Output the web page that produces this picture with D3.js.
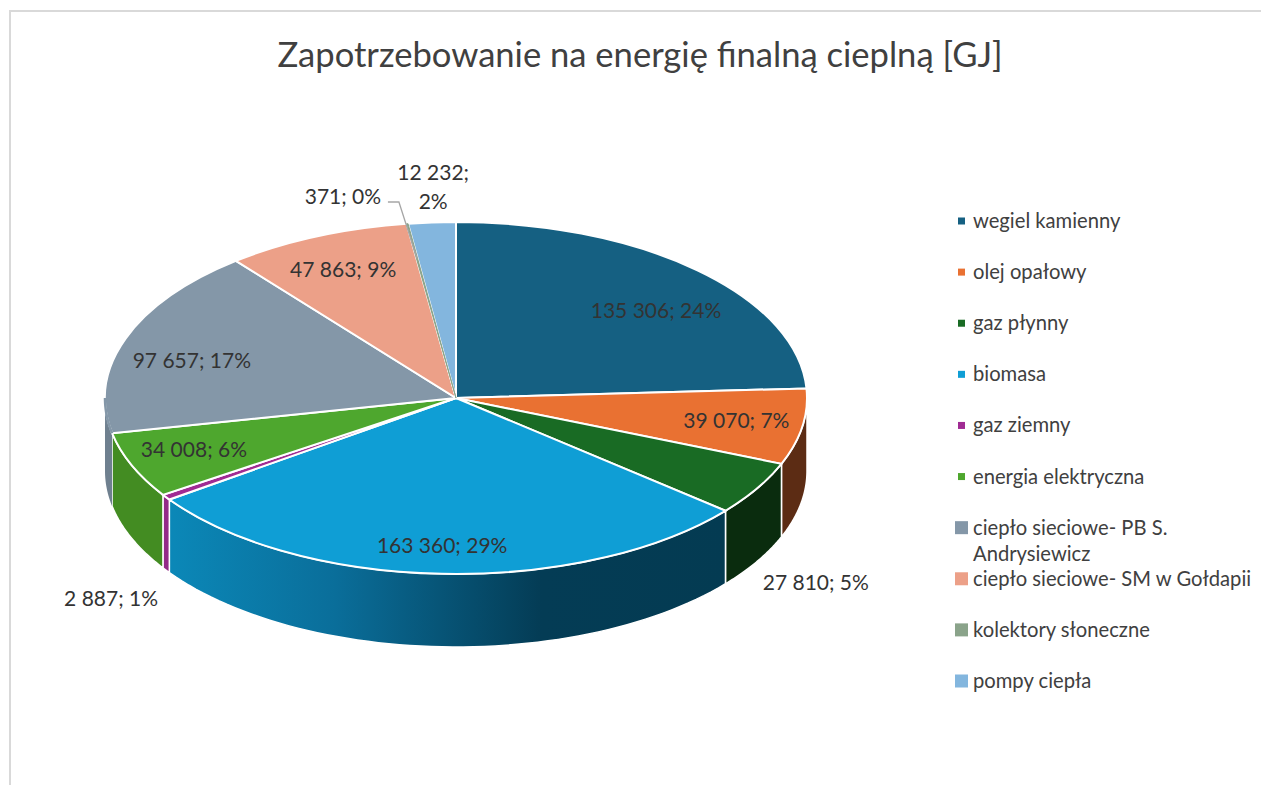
<!DOCTYPE html>
<html>
<head>
<meta charset="utf-8">
<script src="https://cdnjs.cloudflare.com/ajax/libs/d3/7.8.5/d3.min.js"></script>
<style>
body { margin: 0; background: #fff; }
svg { display: block; font-family: Lato, "Open Sans", sans-serif; }
</style>
</head>
<body>
<svg id="chart" width="1261" height="785"></svg>
<script>
const chartTitle = "Zapotrzebowanie na energię finalną cieplną [GJ]";
const categories = ["wegiel kamienny", "olej opałowy", "gaz płynny", "biomasa", "gaz ziemny",
    "energia elektryczna", "ciepło sieciowe- PB S. Andrysiewicz", "ciepło sieciowe- SM w Gołdapii",
    "kolektory słoneczne", "pompy ciepła"];
const values = [135306, 39070, 27810, 163360, 2887, 34008, 97657, 47863, 371, 12232];
const valueLabels = ["135 306", "39 070", "27 810", "163 360", "2 887", "34 008", "97 657", "47 863", "371", "12 232"];
const percentLabels = ["24%", "7%", "5%", "29%", "1%", "6%", "17%", "9%", "0%", "2%"];
const colors = ["#156082", "#e97132", "#196b24", "#0f9ed5", "#a02b93", "#4ea72e", "#8497a8", "#eca088", "#8aa38a", "#83b6de"];
const wallColors = ["#156082", "#5c2c14", "#0a2c0e", "#0f9ed5", "#932a88", "#438c22", "#6f808f", "#eca088", "#8aa38a", "#83b6de"];

// pie geometry, the tilted disc is an ellipse plus a wall under it
const cx = 456, cy = 398, rx = 351, ry = 176, depth = 73;

// label shift from the slice centroid
const labelShift = [[31, 2], [38, 3], [149, 122], [-4, 25], [-142, 132], [-35, 5], [-33, 5], [-15, -15], [-79, -79], [-6, -88]];

const svg = d3.select("#chart");

// frame
svg.append("path")
    .attr("d", "M10,785V11H1261")
    .attr("fill", "none")
    .attr("stroke", "#d9d9d9")
    .attr("stroke-width", 2);

svg.append("text")
    .attr("x", 640)
    .attr("y", 67)
    .attr("text-anchor", "middle")
    .attr("font-size", 34.6)
    .attr("fill", "#404040")
    .text(chartTitle);

const slices = d3.pie().sort(null)(values);

const px = (a, r = 1) => cx + rx * r * Math.sin(a);
const py = (a, r = 1) => cy - ry * r * Math.cos(a);

const defs = svg.append("defs");

// biomass wall runs from lit to dark
const grad = defs.append("linearGradient")
    .attr("id", "biomassWall")
    .attr("gradientUnits", "userSpaceOnUse")
    .attr("x1", 168).attr("x2", 726).attr("y1", 0).attr("y2", 0);
grad.selectAll("stop")
    .data([[0, "#0b88b8"], [0.3, "#0a6e9a"], [0.67, "#043c55"], [1, "#043b52"]])
    .enter().append("stop")
    .attr("offset", d => d[0])
    .attr("stop-color", d => d[1]);

// grey wall fades out of the top face at the far left
const greyGrad = defs.append("linearGradient")
    .attr("id", "greyWall")
    .attr("gradientUnits", "userSpaceOnUse")
    .attr("x1", 0).attr("x2", 0).attr("y1", cy).attr("y2", cy + 30);
greyGrad.selectAll("stop")
    .data([[0, colors[6]], [1, wallColors[6]]])
    .enter().append("stop")
    .attr("offset", d => d[0])
    .attr("stop-color", d => d[1]);

const wall = d3.area()
    .x(a => px(a))
    .y0(a => py(a))
    .y1(a => py(a) + depth);

// only the front half of the disc shows a wall
const lo = Math.PI / 2, hi = 3 * Math.PI / 2;
const walls = slices
    .map((d, i) => ({ i, a0: Math.max(d.startAngle, lo), a1: Math.min(d.endAngle, hi) }))
    .filter(d => d.a1 > d.a0);
const wallAngles = d => d3.range(0, 61).map(k => d.a0 + (d.a1 - d.a0) * k / 60);

svg.append("g").selectAll("path")
    .data(walls)
    .enter().append("path")
    .attr("d", d => wall(wallAngles(d)))
    .attr("fill", d => d.i === 3 ? "url(#biomassWall)" : d.i === 6 ? "url(#greyWall)" : wallColors[d.i])
    .attr("stroke", d => d.i === 6 ? "none" : "#fff")
    .attr("stroke-width", 1.5);

// top face, d3.arc squashed into the ellipse
const arc = d3.arc().innerRadius(0).outerRadius(rx);
const faces = svg.append("g")
    .attr("transform", `translate(${cx},${cy}) scale(1,${ry / rx})`)
    .selectAll("path")
    .data(slices)
    .enter().append("path")
    .attr("d", arc)
    .attr("fill", (d, i) => colors[i])
    .attr("stroke", (d, i) => i === 8 ? colors[8] : "#fff")
    .attr("stroke-width", (d, i) => i === 8 ? 1 : 2)
    .attr("vector-effect", "non-scaling-stroke");

// the sliver of kolektory has to sit above its neighbours' white edges
faces.filter((d, i) => i === 8).raise();

// grey slice has no white rim where it meets its wall
const greyWall = walls.find(d => d.i === 6);
svg.append("path")
    .attr("d", d3.line().x(a => px(a)).y(a => py(a))(wallAngles(greyWall)))
    .attr("fill", "none")
    .attr("stroke", colors[6])
    .attr("stroke-width", 2.5);

// data labels
const labels = svg.append("g")
    .attr("font-size", 21)
    .attr("fill", "#333")
    .attr("text-anchor", "middle")
    .selectAll("text")
    .data(slices)
    .enter().append("text")
    .attr("transform", (d, i) => {
        const m = (d.startAngle + d.endAngle) / 2;
        return `translate(${px(m, 0.7) + labelShift[i][0]},${py(m, 0.7) + labelShift[i][1]})`;
    });

labels.each(function(d, i) {
    const t = d3.select(this);
    if (i === 9) {
        t.append("tspan").attr("x", 0).attr("y", -7).text(valueLabels[i] + ";");
        t.append("tspan").attr("x", 0).attr("y", 22).text(percentLabels[i]);
    } else {
        t.append("tspan").attr("x", 0).attr("y", 7).text(`${valueLabels[i]}; ${percentLabels[i]}`);
    }
});

// leader line for kolektory sloneczne
const solar = slices[8];
const solarMid = (solar.startAngle + solar.endAngle) / 2;
const solarX = px(solarMid, 0.7) + labelShift[8][0];
const solarY = py(solarMid, 0.7) + labelShift[8][1];
svg.append("polyline")
    .attr("points", [[solarX + 45, solarY + 5], [solarX + 56, solarY + 5], [px(solarMid, 0.8), py(solarMid, 0.8)]].join(" "))
    .attr("fill", "none")
    .attr("stroke", "#a6a6a6")
    .attr("stroke-width", 1.3);

// legend
const legendY = d3.scaleLinear().domain([0, 9]).range([221, 681]);
const legend = svg.append("g").selectAll("g")
    .data(categories)
    .enter().append("g")
    .attr("transform", (d, i) => `translate(0,${legendY(i)})`);

legend.append("rect")
    .attr("x", (d, i) => i < 6 ? 958 : 955)
    .attr("y", (d, i) => i < 6 ? -3.5 : -6.5)
    .attr("width", (d, i) => i < 6 ? 7 : 13)
    .attr("height", (d, i) => i < 6 ? 7 : 13)
    .attr("fill", (d, i) => colors[i]);

legend.append("text")
    .attr("x", 973)
    .attr("font-size", 20.2)
    .attr("fill", "#404040")
    .each(function(d) {
        const t = d3.select(this);
        const parts = d === categories[6] ? ["ciepło sieciowe- PB S.", "Andrysiewicz"] : [d];
        parts.forEach((p, k) => t.append("tspan").attr("x", 973).attr("y", 7 + k * 26).text(p));
    });
</script>
</body>
</html>
